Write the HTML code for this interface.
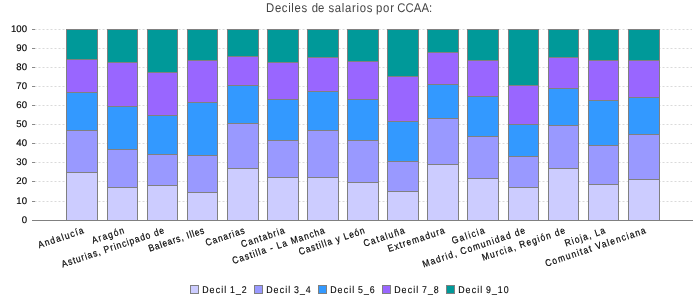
<!DOCTYPE html>
<html><head><meta charset="utf-8"><style>
html,body{margin:0;padding:0;background:#fff;}
body{width:700px;height:300px;overflow:hidden;}
svg{display:block;will-change:transform;}
text{font-family:"Liberation Sans",sans-serif;text-rendering:geometricPrecision;}
.yl{font-size:9.6px;fill:#000;stroke:#000;stroke-width:0.15px;}
.cl{font-size:9.6px;fill:#000;stroke:#000;stroke-width:0.2px;}
.lg{font-size:9.8px;fill:#000;stroke:#000;stroke-width:0.1px;}
.tt{font-size:12.6px;fill:#444;}
</style></head><body>
<svg width="700" height="300" viewBox="0 0 700 300" shape-rendering="crispEdges">
<rect x="0" y="0" width="700" height="300" fill="#fff"/>
<text transform="matrix(0.9,0,0,1,266.05,12)" x="0" y="0" class="tt" textLength="45.67" lengthAdjust="spacing">Deciles</text>
<text transform="matrix(0.9,0,0,1,311.7,12)" x="0" y="0" class="tt" textLength="14.00" lengthAdjust="spacing">de</text>
<text transform="matrix(0.9,0,0,1,328.5,12)" x="0" y="0" class="tt" textLength="48.89" lengthAdjust="spacing">salarios</text>
<text transform="matrix(0.9,0,0,1,376.0,12)" x="0" y="0" class="tt" textLength="20.00" lengthAdjust="spacing">por</text>
<text transform="matrix(0.9,0,0,1,397.3,12)" x="0" y="0" class="tt" textLength="38.78" lengthAdjust="spacing">CCAA:</text>
<line x1="34.5" y1="29.5" x2="692" y2="29.5" stroke="#DADADA" stroke-width="1" stroke-dasharray="2 2" shape-rendering="auto"/>
<line x1="34.5" y1="48.5" x2="692" y2="48.5" stroke="#DADADA" stroke-width="1" stroke-dasharray="2 2" shape-rendering="auto"/>
<line x1="34.5" y1="67.5" x2="692" y2="67.5" stroke="#DADADA" stroke-width="1" stroke-dasharray="2 2" shape-rendering="auto"/>
<line x1="34.5" y1="86.5" x2="692" y2="86.5" stroke="#DADADA" stroke-width="1" stroke-dasharray="2 2" shape-rendering="auto"/>
<line x1="34.5" y1="105.5" x2="692" y2="105.5" stroke="#DADADA" stroke-width="1" stroke-dasharray="2 2" shape-rendering="auto"/>
<line x1="34.5" y1="124.5" x2="692" y2="124.5" stroke="#DADADA" stroke-width="1" stroke-dasharray="2 2" shape-rendering="auto"/>
<line x1="34.5" y1="143.5" x2="692" y2="143.5" stroke="#DADADA" stroke-width="1" stroke-dasharray="2 2" shape-rendering="auto"/>
<line x1="34.5" y1="162.5" x2="692" y2="162.5" stroke="#DADADA" stroke-width="1" stroke-dasharray="2 2" shape-rendering="auto"/>
<line x1="34.5" y1="181.5" x2="692" y2="181.5" stroke="#DADADA" stroke-width="1" stroke-dasharray="2 2" shape-rendering="auto"/>
<line x1="34.5" y1="201.5" x2="692" y2="201.5" stroke="#DADADA" stroke-width="1" stroke-dasharray="2 2" shape-rendering="auto"/>
<rect x="32" y="29" width="3" height="1" fill="#888"/>
<rect x="32" y="48" width="3" height="1" fill="#888"/>
<rect x="32" y="67" width="3" height="1" fill="#888"/>
<rect x="32" y="86" width="3" height="1" fill="#888"/>
<rect x="32" y="105" width="3" height="1" fill="#888"/>
<rect x="32" y="124" width="3" height="1" fill="#888"/>
<rect x="32" y="143" width="3" height="1" fill="#888"/>
<rect x="32" y="162" width="3" height="1" fill="#888"/>
<rect x="32" y="181" width="3" height="1" fill="#888"/>
<rect x="32" y="201" width="3" height="1" fill="#888"/>
<rect x="32" y="220" width="3" height="1" fill="#888"/>
<rect x="32" y="220" width="661" height="1" fill="#808080"/>
<rect x="66" y="29" width="32" height="31" fill="#009999"/>
<rect x="66" y="59" width="32" height="34" fill="#9966FF"/>
<rect x="66" y="92" width="32" height="39" fill="#3399FF"/>
<rect x="66" y="130" width="32" height="43" fill="#9999FF"/>
<rect x="66" y="172" width="32" height="49" fill="#CCCCFF"/>
<rect x="66" y="29" width="32" height="1" fill="#808080"/>
<rect x="66" y="59" width="32" height="1" fill="#808080"/>
<rect x="66" y="92" width="32" height="1" fill="#808080"/>
<rect x="66" y="130" width="32" height="1" fill="#808080"/>
<rect x="66" y="172" width="32" height="1" fill="#808080"/>
<rect x="66" y="220" width="32" height="1" fill="#808080"/>
<rect x="66" y="29" width="1" height="192" fill="#808080"/>
<rect x="97" y="29" width="1" height="192" fill="#808080"/>
<rect x="107" y="29" width="31" height="34" fill="#009999"/>
<rect x="107" y="62" width="31" height="45" fill="#9966FF"/>
<rect x="107" y="106" width="31" height="44" fill="#3399FF"/>
<rect x="107" y="149" width="31" height="39" fill="#9999FF"/>
<rect x="107" y="187" width="31" height="34" fill="#CCCCFF"/>
<rect x="107" y="29" width="31" height="1" fill="#808080"/>
<rect x="107" y="62" width="31" height="1" fill="#808080"/>
<rect x="107" y="106" width="31" height="1" fill="#808080"/>
<rect x="107" y="149" width="31" height="1" fill="#808080"/>
<rect x="107" y="187" width="31" height="1" fill="#808080"/>
<rect x="107" y="220" width="31" height="1" fill="#808080"/>
<rect x="107" y="29" width="1" height="192" fill="#808080"/>
<rect x="137" y="29" width="1" height="192" fill="#808080"/>
<rect x="147" y="29" width="31" height="44" fill="#009999"/>
<rect x="147" y="72" width="31" height="44" fill="#9966FF"/>
<rect x="147" y="115" width="31" height="40" fill="#3399FF"/>
<rect x="147" y="154" width="31" height="32" fill="#9999FF"/>
<rect x="147" y="185" width="31" height="36" fill="#CCCCFF"/>
<rect x="147" y="29" width="31" height="1" fill="#808080"/>
<rect x="147" y="72" width="31" height="1" fill="#808080"/>
<rect x="147" y="115" width="31" height="1" fill="#808080"/>
<rect x="147" y="154" width="31" height="1" fill="#808080"/>
<rect x="147" y="185" width="31" height="1" fill="#808080"/>
<rect x="147" y="220" width="31" height="1" fill="#808080"/>
<rect x="147" y="29" width="1" height="192" fill="#808080"/>
<rect x="177" y="29" width="1" height="192" fill="#808080"/>
<rect x="187" y="29" width="31" height="32" fill="#009999"/>
<rect x="187" y="60" width="31" height="43" fill="#9966FF"/>
<rect x="187" y="102" width="31" height="54" fill="#3399FF"/>
<rect x="187" y="155" width="31" height="38" fill="#9999FF"/>
<rect x="187" y="192" width="31" height="29" fill="#CCCCFF"/>
<rect x="187" y="29" width="31" height="1" fill="#808080"/>
<rect x="187" y="60" width="31" height="1" fill="#808080"/>
<rect x="187" y="102" width="31" height="1" fill="#808080"/>
<rect x="187" y="155" width="31" height="1" fill="#808080"/>
<rect x="187" y="192" width="31" height="1" fill="#808080"/>
<rect x="187" y="220" width="31" height="1" fill="#808080"/>
<rect x="187" y="29" width="1" height="192" fill="#808080"/>
<rect x="217" y="29" width="1" height="192" fill="#808080"/>
<rect x="227" y="29" width="32" height="28" fill="#009999"/>
<rect x="227" y="56" width="32" height="30" fill="#9966FF"/>
<rect x="227" y="85" width="32" height="39" fill="#3399FF"/>
<rect x="227" y="123" width="32" height="46" fill="#9999FF"/>
<rect x="227" y="168" width="32" height="53" fill="#CCCCFF"/>
<rect x="227" y="29" width="32" height="1" fill="#808080"/>
<rect x="227" y="56" width="32" height="1" fill="#808080"/>
<rect x="227" y="85" width="32" height="1" fill="#808080"/>
<rect x="227" y="123" width="32" height="1" fill="#808080"/>
<rect x="227" y="168" width="32" height="1" fill="#808080"/>
<rect x="227" y="220" width="32" height="1" fill="#808080"/>
<rect x="227" y="29" width="1" height="192" fill="#808080"/>
<rect x="258" y="29" width="1" height="192" fill="#808080"/>
<rect x="267" y="29" width="32" height="34" fill="#009999"/>
<rect x="267" y="62" width="32" height="38" fill="#9966FF"/>
<rect x="267" y="99" width="32" height="42" fill="#3399FF"/>
<rect x="267" y="140" width="32" height="38" fill="#9999FF"/>
<rect x="267" y="177" width="32" height="44" fill="#CCCCFF"/>
<rect x="267" y="29" width="32" height="1" fill="#808080"/>
<rect x="267" y="62" width="32" height="1" fill="#808080"/>
<rect x="267" y="99" width="32" height="1" fill="#808080"/>
<rect x="267" y="140" width="32" height="1" fill="#808080"/>
<rect x="267" y="177" width="32" height="1" fill="#808080"/>
<rect x="267" y="220" width="32" height="1" fill="#808080"/>
<rect x="267" y="29" width="1" height="192" fill="#808080"/>
<rect x="298" y="29" width="1" height="192" fill="#808080"/>
<rect x="307" y="29" width="32" height="29" fill="#009999"/>
<rect x="307" y="57" width="32" height="35" fill="#9966FF"/>
<rect x="307" y="91" width="32" height="40" fill="#3399FF"/>
<rect x="307" y="130" width="32" height="48" fill="#9999FF"/>
<rect x="307" y="177" width="32" height="44" fill="#CCCCFF"/>
<rect x="307" y="29" width="32" height="1" fill="#808080"/>
<rect x="307" y="57" width="32" height="1" fill="#808080"/>
<rect x="307" y="91" width="32" height="1" fill="#808080"/>
<rect x="307" y="130" width="32" height="1" fill="#808080"/>
<rect x="307" y="177" width="32" height="1" fill="#808080"/>
<rect x="307" y="220" width="32" height="1" fill="#808080"/>
<rect x="307" y="29" width="1" height="192" fill="#808080"/>
<rect x="338" y="29" width="1" height="192" fill="#808080"/>
<rect x="347" y="29" width="32" height="33" fill="#009999"/>
<rect x="347" y="61" width="32" height="39" fill="#9966FF"/>
<rect x="347" y="99" width="32" height="42" fill="#3399FF"/>
<rect x="347" y="140" width="32" height="43" fill="#9999FF"/>
<rect x="347" y="182" width="32" height="39" fill="#CCCCFF"/>
<rect x="347" y="29" width="32" height="1" fill="#808080"/>
<rect x="347" y="61" width="32" height="1" fill="#808080"/>
<rect x="347" y="99" width="32" height="1" fill="#808080"/>
<rect x="347" y="140" width="32" height="1" fill="#808080"/>
<rect x="347" y="182" width="32" height="1" fill="#808080"/>
<rect x="347" y="220" width="32" height="1" fill="#808080"/>
<rect x="347" y="29" width="1" height="192" fill="#808080"/>
<rect x="378" y="29" width="1" height="192" fill="#808080"/>
<rect x="387" y="29" width="32" height="48" fill="#009999"/>
<rect x="387" y="76" width="32" height="46" fill="#9966FF"/>
<rect x="387" y="121" width="32" height="41" fill="#3399FF"/>
<rect x="387" y="161" width="32" height="31" fill="#9999FF"/>
<rect x="387" y="191" width="32" height="30" fill="#CCCCFF"/>
<rect x="387" y="29" width="32" height="1" fill="#808080"/>
<rect x="387" y="76" width="32" height="1" fill="#808080"/>
<rect x="387" y="121" width="32" height="1" fill="#808080"/>
<rect x="387" y="161" width="32" height="1" fill="#808080"/>
<rect x="387" y="191" width="32" height="1" fill="#808080"/>
<rect x="387" y="220" width="32" height="1" fill="#808080"/>
<rect x="387" y="29" width="1" height="192" fill="#808080"/>
<rect x="418" y="29" width="1" height="192" fill="#808080"/>
<rect x="427" y="29" width="32" height="24" fill="#009999"/>
<rect x="427" y="52" width="32" height="33" fill="#9966FF"/>
<rect x="427" y="84" width="32" height="35" fill="#3399FF"/>
<rect x="427" y="118" width="32" height="47" fill="#9999FF"/>
<rect x="427" y="164" width="32" height="57" fill="#CCCCFF"/>
<rect x="427" y="29" width="32" height="1" fill="#808080"/>
<rect x="427" y="52" width="32" height="1" fill="#808080"/>
<rect x="427" y="84" width="32" height="1" fill="#808080"/>
<rect x="427" y="118" width="32" height="1" fill="#808080"/>
<rect x="427" y="164" width="32" height="1" fill="#808080"/>
<rect x="427" y="220" width="32" height="1" fill="#808080"/>
<rect x="427" y="29" width="1" height="192" fill="#808080"/>
<rect x="458" y="29" width="1" height="192" fill="#808080"/>
<rect x="467" y="29" width="32" height="32" fill="#009999"/>
<rect x="467" y="60" width="32" height="37" fill="#9966FF"/>
<rect x="467" y="96" width="32" height="41" fill="#3399FF"/>
<rect x="467" y="136" width="32" height="43" fill="#9999FF"/>
<rect x="467" y="178" width="32" height="43" fill="#CCCCFF"/>
<rect x="467" y="29" width="32" height="1" fill="#808080"/>
<rect x="467" y="60" width="32" height="1" fill="#808080"/>
<rect x="467" y="96" width="32" height="1" fill="#808080"/>
<rect x="467" y="136" width="32" height="1" fill="#808080"/>
<rect x="467" y="178" width="32" height="1" fill="#808080"/>
<rect x="467" y="220" width="32" height="1" fill="#808080"/>
<rect x="467" y="29" width="1" height="192" fill="#808080"/>
<rect x="498" y="29" width="1" height="192" fill="#808080"/>
<rect x="508" y="29" width="31" height="57" fill="#009999"/>
<rect x="508" y="85" width="31" height="40" fill="#9966FF"/>
<rect x="508" y="124" width="31" height="33" fill="#3399FF"/>
<rect x="508" y="156" width="31" height="32" fill="#9999FF"/>
<rect x="508" y="187" width="31" height="34" fill="#CCCCFF"/>
<rect x="508" y="29" width="31" height="1" fill="#808080"/>
<rect x="508" y="85" width="31" height="1" fill="#808080"/>
<rect x="508" y="124" width="31" height="1" fill="#808080"/>
<rect x="508" y="156" width="31" height="1" fill="#808080"/>
<rect x="508" y="187" width="31" height="1" fill="#808080"/>
<rect x="508" y="220" width="31" height="1" fill="#808080"/>
<rect x="508" y="29" width="1" height="192" fill="#808080"/>
<rect x="538" y="29" width="1" height="192" fill="#808080"/>
<rect x="548" y="29" width="31" height="29" fill="#009999"/>
<rect x="548" y="57" width="31" height="32" fill="#9966FF"/>
<rect x="548" y="88" width="31" height="38" fill="#3399FF"/>
<rect x="548" y="125" width="31" height="44" fill="#9999FF"/>
<rect x="548" y="168" width="31" height="53" fill="#CCCCFF"/>
<rect x="548" y="29" width="31" height="1" fill="#808080"/>
<rect x="548" y="57" width="31" height="1" fill="#808080"/>
<rect x="548" y="88" width="31" height="1" fill="#808080"/>
<rect x="548" y="125" width="31" height="1" fill="#808080"/>
<rect x="548" y="168" width="31" height="1" fill="#808080"/>
<rect x="548" y="220" width="31" height="1" fill="#808080"/>
<rect x="548" y="29" width="1" height="192" fill="#808080"/>
<rect x="578" y="29" width="1" height="192" fill="#808080"/>
<rect x="588" y="29" width="31" height="32" fill="#009999"/>
<rect x="588" y="60" width="31" height="41" fill="#9966FF"/>
<rect x="588" y="100" width="31" height="46" fill="#3399FF"/>
<rect x="588" y="145" width="31" height="40" fill="#9999FF"/>
<rect x="588" y="184" width="31" height="37" fill="#CCCCFF"/>
<rect x="588" y="29" width="31" height="1" fill="#808080"/>
<rect x="588" y="60" width="31" height="1" fill="#808080"/>
<rect x="588" y="100" width="31" height="1" fill="#808080"/>
<rect x="588" y="145" width="31" height="1" fill="#808080"/>
<rect x="588" y="184" width="31" height="1" fill="#808080"/>
<rect x="588" y="220" width="31" height="1" fill="#808080"/>
<rect x="588" y="29" width="1" height="192" fill="#808080"/>
<rect x="618" y="29" width="1" height="192" fill="#808080"/>
<rect x="628" y="29" width="32" height="32" fill="#009999"/>
<rect x="628" y="60" width="32" height="38" fill="#9966FF"/>
<rect x="628" y="97" width="32" height="38" fill="#3399FF"/>
<rect x="628" y="134" width="32" height="46" fill="#9999FF"/>
<rect x="628" y="179" width="32" height="42" fill="#CCCCFF"/>
<rect x="628" y="29" width="32" height="1" fill="#808080"/>
<rect x="628" y="60" width="32" height="1" fill="#808080"/>
<rect x="628" y="97" width="32" height="1" fill="#808080"/>
<rect x="628" y="134" width="32" height="1" fill="#808080"/>
<rect x="628" y="179" width="32" height="1" fill="#808080"/>
<rect x="628" y="220" width="32" height="1" fill="#808080"/>
<rect x="628" y="29" width="1" height="192" fill="#808080"/>
<rect x="659" y="29" width="1" height="192" fill="#808080"/>
<text x="27" y="32.4" text-anchor="end" class="yl">100</text>
<text x="27" y="51.4" text-anchor="end" class="yl">90</text>
<text x="27" y="70.4" text-anchor="end" class="yl">80</text>
<text x="27" y="89.4" text-anchor="end" class="yl">70</text>
<text x="27" y="108.4" text-anchor="end" class="yl">60</text>
<text x="27" y="127.4" text-anchor="end" class="yl">50</text>
<text x="27" y="146.4" text-anchor="end" class="yl">40</text>
<text x="27" y="165.4" text-anchor="end" class="yl">30</text>
<text x="27" y="184.4" text-anchor="end" class="yl">20</text>
<text x="27" y="204.4" text-anchor="end" class="yl">10</text>
<text x="27" y="223.4" text-anchor="end" class="yl">0</text>
<text transform="translate(81.40,224.4) rotate(-18.6) scale(0.88,1)" x="0" y="9.2" text-anchor="end" class="cl" textLength="54.11" lengthAdjust="spacing">Andalucía</text>
<text transform="translate(121.90,224.4) rotate(-18.6) scale(0.88,1)" x="0" y="9.2" text-anchor="end" class="cl" textLength="38.14" lengthAdjust="spacing">Aragón</text>
<text transform="translate(161.90,224.4) rotate(-18.6) scale(0.88,1)" x="0" y="9.2" text-anchor="end" class="cl" textLength="122.40" lengthAdjust="spacing">Asturias, Principado de</text>
<text transform="translate(201.90,224.4) rotate(-18.6) scale(0.88,1)" x="0" y="9.2" text-anchor="end" class="cl" textLength="66.15" lengthAdjust="spacing">Balears, Illes</text>
<text transform="translate(242.40,224.4) rotate(-18.6) scale(0.88,1)" x="0" y="9.2" text-anchor="end" class="cl" textLength="46.24" lengthAdjust="spacing">Canarias</text>
<text transform="translate(282.40,224.4) rotate(-18.6) scale(0.88,1)" x="0" y="9.2" text-anchor="end" class="cl" textLength="51.52" lengthAdjust="spacing">Cantabria</text>
<text transform="translate(322.40,224.4) rotate(-18.6) scale(0.88,1)" x="0" y="9.2" text-anchor="end" class="cl" textLength="110.14" lengthAdjust="spacing">Castilla - La Mancha</text>
<text transform="translate(362.40,224.4) rotate(-18.6) scale(0.88,1)" x="0" y="9.2" text-anchor="end" class="cl" textLength="78.41" lengthAdjust="spacing">Castilla y León</text>
<text transform="translate(402.40,224.4) rotate(-18.6) scale(0.88,1)" x="0" y="9.2" text-anchor="end" class="cl" textLength="48.60" lengthAdjust="spacing">Cataluña</text>
<text transform="translate(442.40,224.4) rotate(-18.6) scale(0.88,1)" x="0" y="9.2" text-anchor="end" class="cl" textLength="67.50" lengthAdjust="spacing">Extremadura</text>
<text transform="translate(482.40,224.4) rotate(-18.6) scale(0.88,1)" x="0" y="9.2" text-anchor="end" class="cl" textLength="38.81" lengthAdjust="spacing">Galicia</text>
<text transform="translate(522.90,224.4) rotate(-18.6) scale(0.88,1)" x="0" y="9.2" text-anchor="end" class="cl" textLength="122.40" lengthAdjust="spacing">Madrid, Comunidad de</text>
<text transform="translate(562.90,224.4) rotate(-18.6) scale(0.88,1)" x="0" y="9.2" text-anchor="end" class="cl" textLength="98.89" lengthAdjust="spacing">Murcia, Región de</text>
<text transform="translate(602.90,224.4) rotate(-18.6) scale(0.88,1)" x="0" y="9.2" text-anchor="end" class="cl" textLength="47.70" lengthAdjust="spacing">Rioja, La</text>
<text transform="translate(643.40,224.4) rotate(-18.6) scale(0.88,1)" x="0" y="9.2" text-anchor="end" class="cl" textLength="119.81" lengthAdjust="spacing">Comunitat Valenciana</text>
<rect x="190" y="285" width="9" height="9" fill="#808080"/>
<rect x="191" y="286" width="7" height="7" fill="#CCCCFF"/>
<text transform="matrix(0.9,0,0,1.0,202.3,292.9)" x="0.00 8.14 14.83 21.11 24.33 27.11 30.67 37.44 43.78" y="0" class="lg">Decil 1_2</text>
<rect x="254" y="285" width="9" height="9" fill="#808080"/>
<rect x="255" y="286" width="7" height="7" fill="#9999FF"/>
<text transform="matrix(0.9,0,0,1.0,266.3,292.9)" x="0.00 8.14 14.83 21.11 24.33 27.11 30.67 37.44 43.78" y="0" class="lg">Decil 3_4</text>
<rect x="318" y="285" width="9" height="9" fill="#808080"/>
<rect x="319" y="286" width="7" height="7" fill="#3399FF"/>
<text transform="matrix(0.9,0,0,1.0,330.3,292.9)" x="0.00 8.14 14.83 21.11 24.33 27.11 30.67 37.44 43.78" y="0" class="lg">Decil 5_6</text>
<rect x="382" y="285" width="9" height="9" fill="#808080"/>
<rect x="383" y="286" width="7" height="7" fill="#9966FF"/>
<text transform="matrix(0.9,0,0,1.0,394.3,292.9)" x="0.00 8.14 14.83 21.11 24.33 27.11 30.67 37.44 43.78" y="0" class="lg">Decil 7_8</text>
<rect x="446" y="285" width="9" height="9" fill="#808080"/>
<rect x="447" y="286" width="7" height="7" fill="#009999"/>
<text transform="matrix(0.9,0,0,1.0,458.3,292.9)" x="0.00 8.14 14.83 21.11 24.33 27.11 30.67 37.44 43.78 50.44" y="0" class="lg">Decil 9_10</text>
</svg>
</body></html>
